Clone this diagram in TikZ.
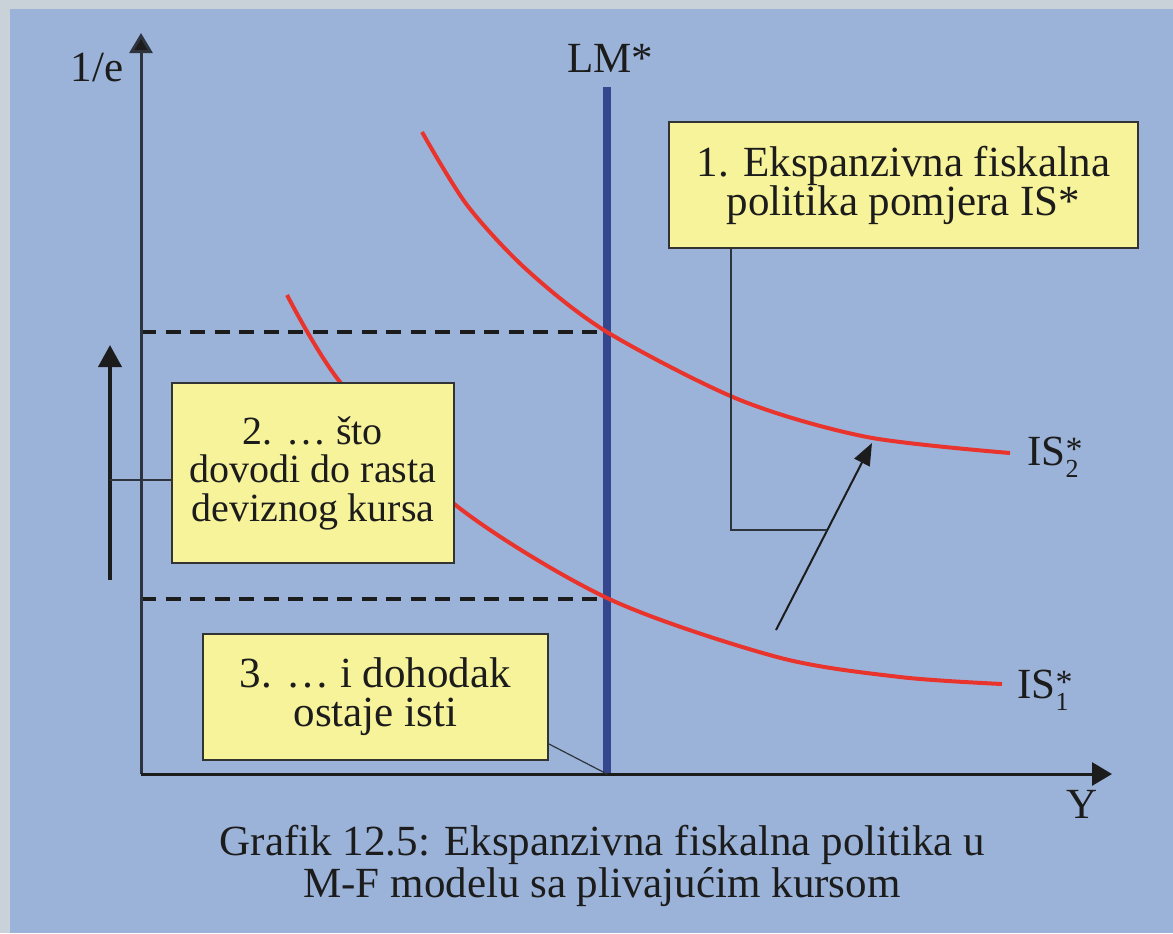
\documentclass[tikz,border=0pt]{standalone}
\usepackage{fontspec}
\setmainfont{Liberation Serif}
\usetikzlibrary{arrows.meta,calc}
\definecolor{framegray}{RGB}{200,210,216}
\definecolor{bgblue}{RGB}{155,179,216}
\definecolor{boxyellow}{RGB}{247,243,154}
\definecolor{lmblue}{RGB}{52,71,142}
\definecolor{isred}{RGB}{232,52,45}
\definecolor{ink}{RGB}{28,28,28}
\definecolor{axisgray}{RGB}{45,52,62}
\newcommand{\isstack}[1]{IS\rlap{\raisebox{0.1em}{\fontsize{17}{17}\selectfont *}}\raisebox{-0.28em}{\fontsize{13}{13}\selectfont #1}}
\begin{document}
\begin{tikzpicture}[x=0.5pt,y=-0.5pt,
  txt/.style={text=ink,font=\fontsize{21.5}{21}\selectfont,inner sep=0pt},
  notebox/.style={draw=ink!90,line width=1pt,fill=boxyellow,text=ink,align=center,inner sep=0pt,
                  font=\fontsize{21.5}{19.5}\selectfont},
  conn/.style={draw=axisgray,line width=0.75pt},
  axisline/.style={draw=axisgray,line width=1.5pt,-{Triangle[length=10pt,width=11.5pt,fill=ink]}},
  dashline/.style={draw=ink,line width=1.7pt,dash pattern=on 7.5pt off 4.75pt},
  iscurve/.style={draw=isred,line width=2pt},
  lmline/.style={draw=lmblue,line width=4pt},
  shiftarrow/.style={draw=ink,line width=1pt,-{Triangle[length=11pt,width=8.5pt]}},
  riseraw/.style={draw=ink,line width=2pt,-{Triangle[length=11pt,width=11.5pt]}}
]
\useasboundingbox (0,0) rectangle (1173,933);
\fill[framegray] (0,0) rectangle (1173,933);
\fill[bgblue] (10,9) rectangle (1173,933);

% key points
\coordinate (O) at (141,774);
\coordinate (ytip) at (141,33);
\coordinate (xtip) at (1112,774);
\coordinate (lmtop) at (607,87);
\coordinate (lmbot) at (607,774);
\coordinate (hi) at (607,332);
\coordinate (lo) at (607,599);

% dashed levels
\draw[dashline] (O |- hi) -- (hi);
\draw[dashline] (O |- lo) -- (lo);

% LM*
\draw[lmline] (lmtop) -- (lmbot);

% IS curves
\draw[iscurve] plot[smooth] coordinates {(287,295) (340,382) (453,503) (607,598) (777,657) (900,677) (1002,684)};
\draw[iscurve] plot[smooth] coordinates {(422,132) (467,205) (527,270) (607,332) (740,400) (867,437) (1010,453)};

% axes
\draw[axisline] (O) -- (ytip);
\draw[axisline,draw=ink] (O) -- (xtip);

% boxes
\node[notebox,minimum width=234.5pt,minimum height=63pt] (box1) at (903.5,185)
  {1. Ekspanzivna fiskalna\\politika pomjera IS*};
\node[notebox,minimum width=141pt,minimum height=90pt,font=\fontsize{20}{19.25}\selectfont] (box2) at (313,473)
  {2. … što\\dovodi do rasta\\deviznog kursa};
\node[notebox,minimum width=172.5pt,minimum height=63pt] (box3) at (375.5,697)
  {3. … i dohodak\\ostaje isti};

% shift arrow and connector from box 1
\coordinate (sa) at (776,630);
\coordinate (sb) at (872,443);
\draw[shiftarrow] (sa) -- (sb);
\coordinate (k1) at ($(sa)!0.535!(sb)$);
\draw[conn] ([xshift=31.5pt]box1.south west) |- (k1);

% rising exchange rate arrow and connector from box 2
\coordinate (va) at (110,580);
\coordinate (vb) at (110,345);
\coordinate (ua) at (110,480);
\draw[riseraw] (va) -- (vb);
\draw[conn] (ua) -- (ua -| box2.west);

% connector from box 3
\draw[conn,line width=0.6pt] ([yshift=8.5pt]box3.south east) -- (lmbot);

% labels
\node[txt,anchor=base] (lab1e) at (97,81) {1/e};
\node[txt,anchor=base] (labLM) at (610,72) {LM*};
\node[txt,anchor=base] (labY) at (1082,818) {Y};
\node[txt,anchor=base west] (labIS2) at (1027,465) {\isstack{2}};
\node[txt,anchor=base west] (labIS1) at (1017,698) {\isstack{1}};
\node[txt,anchor=base] (cap1) at (602.5,855) {Grafik 12.5: Ekspanzivna fiskalna politika u};
\node[txt,anchor=base] (cap2) at (602,897) {M-F modelu sa plivajućim kursom};
\end{tikzpicture}
\end{document}
